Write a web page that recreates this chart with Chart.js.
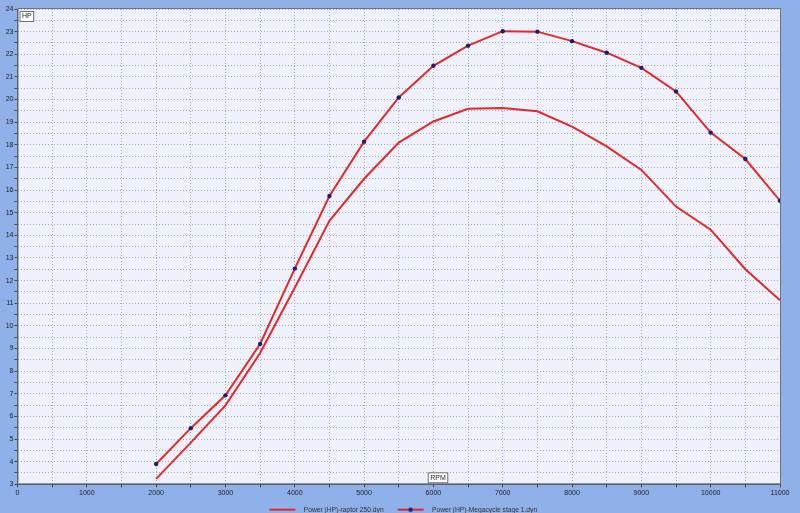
<!DOCTYPE html>
<html>
<head>
<meta charset="utf-8">
<script src="https://cdn.jsdelivr.net/npm/chart.js@4.4.1/dist/chart.umd.min.js"></script>
<style>
  html, body { margin: 0; padding: 0; background: #8fb0e8; }
  canvas { display: block; }
</style>
</head>
<body>
<canvas id="dyno" width="800" height="513"></canvas>
<script>
// dyno sheet: power vs rpm, two runs
const rpm = [2000, 2500, 3000, 3500, 4000, 4500, 5000, 5500, 6000, 6500,
             7000, 7500, 8000, 8500, 9000, 9500, 10000, 10500, 11000];
const raptorHp = [3.24, 4.84, 6.49, 8.8, 11.68, 14.64, 16.5, 18.1, 19.03, 19.59,
                  19.63, 19.48, 18.8, 17.93, 16.89, 15.27, 14.25, 12.5, 11.13];
const megacycleHp = [3.9, 5.48, 6.93, 9.2, 12.53, 15.74, 18.14, 20.09, 21.49, 22.38,
                     23.02, 23.0, 22.58, 22.07, 21.4, 20.36, 18.54, 17.37, 15.53];
const seriesNames = ['Power (HP)-raptor 250.dyn', 'Power (HP)-Megacycle stage 1.dyn'];
const rpmRange = [0, 11000];
const hpRange = [3, 24];

const RED = '#e3282c';
const NAVY = '#1b1f6e';
const FONT = '"Liberation Sans", Arial, sans-serif';

// little line samples for the legend (transparent margin on the left for spacing)
function swatch(withDot) {
    const cv = document.createElement('canvas');
    cv.width = 40; cv.height = 6;
    const g = cv.getContext('2d');
    g.strokeStyle = RED; g.lineWidth = 2;
    g.beginPath(); g.moveTo(9, 3); g.lineTo(35, 3); g.stroke();
    if (withDot) {
        g.fillStyle = NAVY;
        g.beginPath(); g.arc(22, 3, 2.2, 0, Math.PI * 2); g.fill();
    }
    return cv;
}
const swatches = [swatch(false), swatch(true)];

function boxLabel(ctx, text, x, y) {
    ctx.font = '7px ' + FONT;
    const w = ctx.measureText(text).width + 4;
    ctx.fillStyle = '#ffffff';
    ctx.fillRect(x, y, w, 10);
    ctx.strokeStyle = '#6e6e6e';
    ctx.lineWidth = 1;
    ctx.strokeRect(x + 0.5, y + 0.5, w, 10);
    ctx.fillStyle = '#222';
    ctx.textBaseline = 'middle';
    ctx.textAlign = 'left';
    ctx.fillText(text, x + 2.5, y + 5.5);
}

const sheet = {
    id: 'sheet',
    beforeDraw(chart) {
        const { ctx, chartArea: a } = chart;
        ctx.save();
        ctx.fillStyle = '#8fb0e8';
        ctx.fillRect(0, 0, chart.width, chart.height);
        ctx.fillStyle = '#eef1fa';
        ctx.fillRect(a.left, a.top, a.right - a.left, a.bottom - a.top);
        ctx.restore();
    },
    afterDraw(chart) {
        const { ctx, chartArea: a } = chart;
        ctx.save();
        ctx.strokeStyle = '#6c7282';
        ctx.lineWidth = 1;
        ctx.strokeRect(a.left + 0.5, a.top - 0.5, a.right - a.left, a.bottom - a.top);
        boxLabel(ctx, 'HP', a.left + 2, a.top + 2);
        boxLabel(ctx, 'RPM', a.left + (a.right - a.left) * 0.538, a.bottom - 12);
        ctx.restore();
    }
};

const gridOpts = {
    color: '#a3a9b8',
    lineWidth: 1,
    tickLength: 3,
    tickColor: '#444',
    tickBorderDash: []
};

new Chart(document.getElementById('dyno'), {
    type: 'line',
    data: {
        datasets: [{
            label: seriesNames[0],
            data: rpm.map((r, i) => ({ x: r, y: raptorHp[i] })),
            borderColor: RED,
            borderWidth: 2,
            pointRadius: 0,
            tension: 0,
            fill: false
        }, {
            label: seriesNames[1],
            data: rpm.map((r, i) => ({ x: r, y: megacycleHp[i] })),
            borderColor: RED,
            borderWidth: 2,
            pointRadius: 2.2,
            pointBorderWidth: 0,
            pointBackgroundColor: NAVY,
            tension: 0,
            fill: false
        }]
    },
    options: {
        responsive: false,
        animation: false,
        devicePixelRatio: 1,
        layout: { padding: { top: 9, right: 20, left: 0, bottom: -10 } },
        scales: {
            x: {
                type: 'linear',
                min: rpmRange[0],
                max: rpmRange[1],
                afterFit: (s) => { s.height = 17; },
                grid: gridOpts,
                border: { color: '#555', width: 1, dash: [1, 2] },
                ticks: {
                    stepSize: 500,
                    autoSkip: false,
                    maxRotation: 0,
                    padding: 2,
                    color: '#222',
                    font: { size: 7, family: FONT },
                    callback: (v) => (v % 1000 === 0 ? v : '')
                }
            },
            y: {
                min: hpRange[0],
                max: hpRange[1],
                afterFit: (s) => { s.width = 17.5; },
                grid: gridOpts,
                border: { color: '#555', width: 1, dash: [1, 2] },
                ticks: {
                    stepSize: 0.5,
                    autoSkip: false,
                    padding: 1,
                    color: '#222',
                    font: { size: 7, family: FONT },
                    callback: (v) => (Number.isInteger(v) ? v : '')
                }
            }
        },
        plugins: {
            tooltip: { enabled: false },
            legend: {
                display: true,
                position: 'bottom',
                fullSize: false,
                labels: {
                    usePointStyle: true,
                    pointStyleWidth: 40,
                    padding: 5,
                    color: '#333',
                    font: { size: 6.7, family: FONT },
                    generateLabels: (chart) => chart.data.datasets.map((ds, i) => ({
                        text: ds.label,
                        pointStyle: swatches[i],
                        datasetIndex: i,
                        fontColor: '#333',
                        lineWidth: 0,
                        hidden: false
                    }))
                }
            }
        }
    },
    plugins: [sheet]
});
</script>
</body>
</html>
